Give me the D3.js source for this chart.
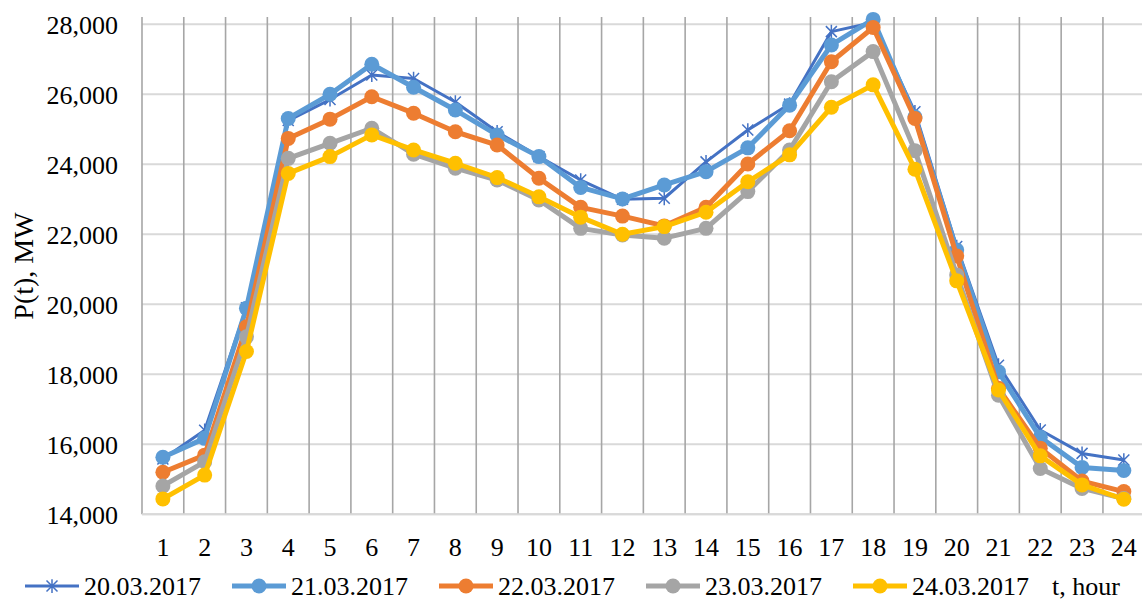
<!DOCTYPE html>
<html>
<head>
<meta charset="utf-8">
<script src="https://cdn.jsdelivr.net/npm/d3@7/dist/d3.min.js"></script>
<style>
  html, body { margin: 0; padding: 0; background: #fff; }
  svg { display: block; font-family: "Liberation Serif", "Times New Roman", serif; }
</style>
</head>
<body>
<svg id="chart" width="1142" height="601"></svg>
<script>
const hours = d3.range(1, 25).map(String);
const yTicks = [14000, 16000, 18000, 20000, 22000, 24000, 26000, 28000];
const seriesNames = ["20.03.2017", "21.03.2017", "22.03.2017", "23.03.2017", "24.03.2017"];
const seriesColors = ["#4472C4", "#5B9BD5", "#ED7D31", "#A5A5A5", "#FFC000"];
const d20 = [15580, 16400, 19900, 25250, 25850, 26550, 26450, 25780, 24930, 24220, 23550, 23000, 23030, 24070, 24980, 25720, 27790, 28050, 25500, 21650, 18260, 16410, 15740, 15550];
const d21 = [15630, 16170, 19890, 25310, 26000, 26860, 26200, 25550, 24840, 24220, 23340, 23010, 23410, 23790, 24470, 25690, 27410, 28140, 25350, 21550, 18070, 16200, 15340, 15250];
const d22 = [15200, 15690, 19360, 24740, 25290, 25930, 25460, 24930, 24550, 23600, 22770, 22520, 22240, 22770, 24010, 24960, 26930, 27910, 25310, 21380, 17600, 15890, 14950, 14650];
const d23 = [14810, 15500, 19070, 24170, 24600, 25030, 24290, 23890, 23550, 22980, 22170, 21980, 21890, 22170, 23220, 24410, 26360, 27220, 24390, 20840, 17400, 15310, 14740, 14450];
const d24 = [14440, 15120, 18650, 23740, 24220, 24840, 24410, 24030, 23620, 23070, 22490, 22000, 22220, 22630, 23500, 24270, 25630, 26270, 23860, 20670, 17550, 15670, 14840, 14430];
const allSeries = [d20, d21, d22, d23, d24];
const xTitle = "t, hour";
const yTitle = "P(t), MW";

(function () {
const svg = d3.select("#chart");
const pLeft = 142, pRight = 142 + 24 * 41.78, pTop = 24.3, pBottom = 514.3;

const x = d3.scaleBand().domain(hours).range([pLeft, pRight]).padding(0);
const y = d3.scaleLinear().domain([14000, 28000]).range([pBottom, pTop]);
const cx = h => x(h) + x.bandwidth() / 2;

// horizontal gridlines
svg.append("g").selectAll("line").data(yTicks).join("line")
  .attr("x1", pLeft).attr("x2", 1142)
  .attr("y1", d => y(d)).attr("y2", d => y(d))
  .attr("stroke", "#d9d9d9").attr("stroke-width", 2);

// vertical gridlines at category boundaries
svg.append("g").selectAll("line").data(hours).join("line")
  .attr("x1", d => x(d)).attr("x2", d => x(d))
  .attr("y1", 17).attr("y2", pBottom)
  .attr("stroke", "#a6a6a6").attr("stroke-width", 1.6);

// y axis labels
const yAxis = d3.axisLeft(y).tickValues(yTicks).tickFormat(d3.format(",")).tickSize(0).tickPadding(0);
const gy = svg.append("g").attr("transform", `translate(118,0)`).call(yAxis);
gy.select(".domain").remove();
gy.selectAll("text").attr("font-size", 26).attr("fill", "#000")
  .attr("font-family", "Liberation Serif").attr("dy", "0.34em");

// x axis
const xAxis = d3.axisBottom(x).tickSize(0).tickPadding(0);
const gx = svg.append("g").attr("transform", `translate(0,${pBottom})`).call(xAxis);
gx.select(".domain").remove();
gx.selectAll("text").attr("font-size", 26).attr("fill", "#000")
  .attr("font-family", "Liberation Serif").attr("dy", null).attr("y", 42);
svg.append("line").attr("x1", pLeft).attr("x2", 1142).attr("y1", pBottom).attr("y2", pBottom)
  .attr("stroke", "#d9d9d9").attr("stroke-width", 2);

// y title
svg.append("text").attr("transform", `translate(33,266) rotate(-90)`)
  .attr("text-anchor", "middle").attr("font-size", 28).text(yTitle);

function starPath(s) {
  return `M${-s},${-s}L${s},${s}M${-s},${s}L${s},${-s}M0,${-s*1.25}L0,${s*1.25}`;
}

const line = d3.line().x((d, i) => cx(hours[i])).y(d => y(d));
const plot = svg.append("g");
allSeries.forEach((data, si) => {
  const col = seriesColors[si];
  plot.append("path").datum(data).attr("d", line)
    .attr("fill", "none").attr("stroke", col)
    .attr("stroke-width", si === 0 ? 3 : 5).attr("stroke-linejoin", "round");
  if (si === 0) {
    plot.append("g").selectAll("path").data(data).join("path")
      .attr("transform", (d, i) => `translate(${cx(hours[i])},${y(d)})`)
      .attr("d", starPath(5.5)).attr("stroke", col).attr("stroke-width", 1.5).attr("fill", "none");
  } else {
    plot.append("g").selectAll("circle").data(data).join("circle")
      .attr("cx", (d, i) => cx(hours[i])).attr("cy", d => y(d))
      .attr("r", 7.5).attr("fill", col);
  }
});

// legend
const leg = svg.append("g");
const legY = 586;
seriesNames.forEach((name, i) => {
  const x0 = 25 + 207 * i;
  const col = seriesColors[i];
  leg.append("line").attr("x1", x0).attr("x2", x0 + 54).attr("y1", legY).attr("y2", legY)
    .attr("stroke", col).attr("stroke-width", i === 0 ? 3 : 5);
  if (i === 0) {
    leg.append("path").attr("transform", `translate(${x0 + 27},${legY})`)
      .attr("d", starPath(5.5)).attr("stroke", col).attr("stroke-width", 1.5).attr("fill", "none");
  } else {
    leg.append("circle").attr("cx", x0 + 27).attr("cy", legY).attr("r", 7.5).attr("fill", col);
  }
  leg.append("text").attr("x", x0 + 59).attr("y", legY).attr("dy", "0.34em")
    .attr("font-size", 26).text(name);
});
svg.append("text").attr("x", 1052).attr("y", legY).attr("dy", "0.34em")
  .attr("font-size", 26).text(xTitle);
})();
</script>
</body>
</html>
